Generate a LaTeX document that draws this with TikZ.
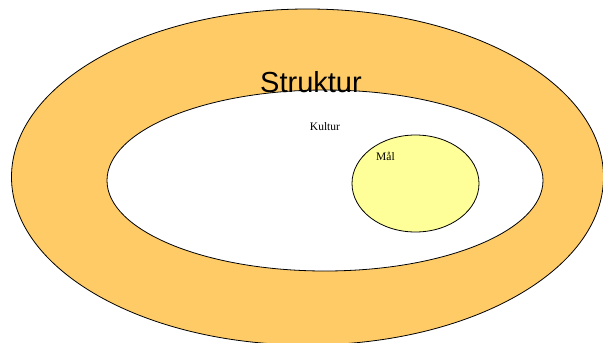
\documentclass[tikz,border=0pt]{standalone}
\usepackage{fontspec}
\setmainfont{Liberation Serif}
\newfontfamily\arialf{Liberation Sans}
\usetikzlibrary{shapes.geometric}
\definecolor{ring}{HTML}{FECB67}
\definecolor{goal}{HTML}{FFFF99}
\tikzset{
  ell/.style={ellipse, draw=black, line width=0.8pt, inner sep=0pt},
}
\begin{document}
\begin{tikzpicture}[x=1pt,y=-1pt]
\useasboundingbox (0,0) rectangle (603,343);
\clip (0,0) rectangle (603,343);
\fill[white] (0,0) rectangle (603,343);
\node[ell, fill=ring, minimum width=592pt, minimum height=336pt] (outer) at (307.5,177) {};
\node[ell, fill=white, minimum width=436pt, minimum height=181pt] (inner) at (325,180.5) {};
\node[ell, fill=goal, minimum width=127pt, minimum height=97pt] (mal) at (415.5,183.5) {};
\node[anchor=base, inner sep=0pt, font=\arialf\fontsize{29}{32}\selectfont] (struktur) at (311,92) {Struktur};
\node[anchor=base, inner sep=0pt, font=\fontsize{11.5}{13}\selectfont] (kultur) at (325,130.5) {Kultur};
\node[anchor=base west, inner sep=0pt, font=\fontsize{11.5}{13}\selectfont] (maltext) at (376,160) {Mål};
\end{tikzpicture}
\end{document}
